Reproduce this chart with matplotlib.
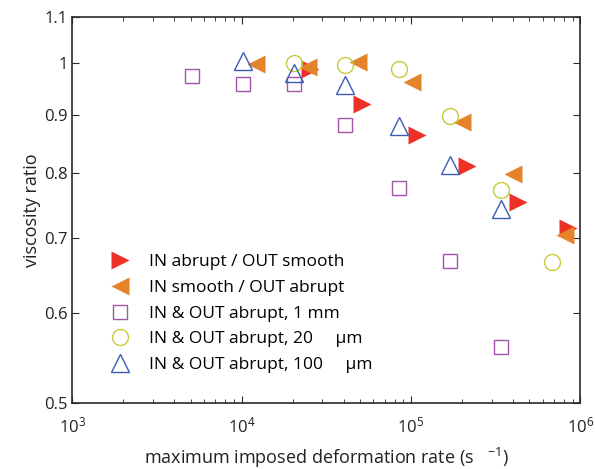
import matplotlib
matplotlib.use("Agg")
import matplotlib.pyplot as plt

plt.rcParams.update({
    "font.family": ["Open Sans", "DejaVu Sans"],
    "mathtext.fontset": "custom",
    "mathtext.rm": "Open Sans",
    "mathtext.it": "Open Sans",
    "mathtext.bf": "Open Sans",
    "font.size": 12,
    "axes.linewidth": 1.2,
    "axes.edgecolor": "#2a2a2a",
})

# IN abrupt / OUT smooth
red_x = [25300, 51100, 108000, 215000, 430000, 850000]
red_y = [0.988, 0.920, 0.863, 0.811, 0.753, 0.714]
# IN smooth / OUT abrupt
orange_x = [12100, 24700, 48800, 101000, 201000, 402000, 812000]
orange_y = [0.999, 0.993, 1.003, 0.962, 0.887, 0.798, 0.704]
# IN & OUT abrupt, 1 mm
sq_x = [5110, 10200, 20400, 40900, 85000, 170000, 342000]
sq_y = [0.975, 0.958, 0.958, 0.882, 0.776, 0.668, 0.560]
# IN & OUT abrupt, 20 um
circ_x = [20400, 40900, 85000, 170000, 342000, 683000]
circ_y = [1.000, 0.997, 0.988, 0.898, 0.772, 0.666]
# IN & OUT abrupt, 100 um
tri_x = [10200, 20400, 40900, 85100, 171000, 342000]
tri_y = [1.005, 0.980, 0.957, 0.879, 0.8125, 0.742]

labels = [
    "IN abrupt / OUT smooth",
    "IN smooth / OUT abrupt",
    "IN & OUT abrupt, 1 mm",
    "IN & OUT abrupt, 20     \u03bcm",
    "IN & OUT abrupt, 100     \u03bcm",
]
yticks = [0.5, 0.6, 0.7, 0.8, 0.9, 1.0, 1.1]
ytick_labels = ["0.5", "0.6", "0.7", "0.8", "0.9", "1", "1.1"]

fig = plt.figure(figsize=(5.95, 4.69), dpi=100)
ax = fig.add_axes([0.1217, 0.1414, 0.8536, 0.823])

ax.plot(red_x, red_y, ">", ls="none", ms=13, color="#ee3126", mec="none", label=labels[0])
ax.plot(orange_x, orange_y, "<", ls="none", ms=13, color="#e5832a", mec="none", label=labels[1])
ax.plot(sq_x, sq_y, "s", ls="none", ms=9.5, mfc="none", mec="#a355aa", mew=1.0, label=labels[2])
ax.plot(circ_x, circ_y, "o", ls="none", ms=11.5, mfc="none", mec="#c8c83a", mew=1.0, label=labels[3])
ax.plot(tri_x, tri_y, "^", ls="none", ms=13, mfc="none", mec="#3a5cb2", mew=1.0, label=labels[4])

ax.set_xscale("log")
ax.set_yscale("log")
ax.set_xlim(1e3, 1e6)
ax.set_ylim(0.5, 1.1)
ax.set_yticks(yticks)
ax.set_yticklabels(ytick_labels)
ax.yaxis.set_minor_locator(matplotlib.ticker.NullLocator())
ax.tick_params(which="both", direction="in", top=True, right=True, colors="#2a2a2a",
               labelcolor="#222222", labelsize=12)
ax.tick_params(which="major", length=5)
ax.tick_params(which="minor", length=3)
ax.tick_params(axis="x", which="major", pad=10)

ax.set_xlabel("maximum imposed deformation rate (s   $^{-1}$)", fontsize=13, color="#222222", labelpad=7)
ax.set_ylabel("viscosity ratio", fontsize=13, color="#222222", labelpad=2)

ax.legend(loc="upper left", bbox_to_anchor=(0.068, 0.385), frameon=False, fontsize=12.5,
          handlelength=1.5, handletextpad=0.9, labelspacing=0.55, borderpad=0, borderaxespad=0)

fig.savefig("out.png", dpi=100)
